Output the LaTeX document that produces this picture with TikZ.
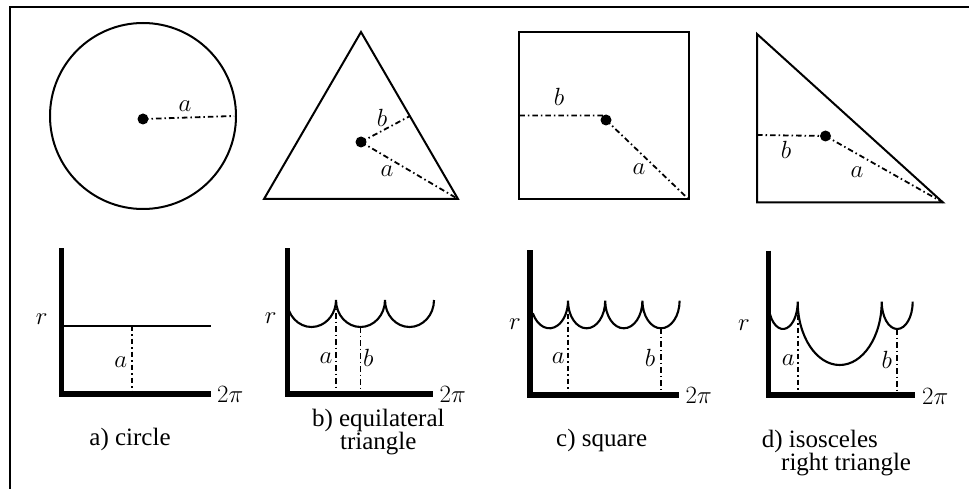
\documentclass[tikz,border=0pt]{standalone}
\usepackage{fontspec}
\setmainfont{Liberation Serif}
\begin{document}
\begin{tikzpicture}[x=1pt,y=1pt,
  outline/.style={line width=2.0pt, line join=miter},
  dd/.style={line width=1.8pt, dash pattern=on 5.5pt off 3pt on 1.5pt off 3pt},
  axisline/.style={line width=5.5pt},
  curve/.style={line width=2.1pt},
  lab/.style={font=\fontsize{24}{24}\selectfont, inner sep=0pt},
  tpi/.style={lab, anchor=west},
  capt/.style={font=\fontsize{25}{25}\selectfont, inner sep=0pt},
  dot/.style={circle, fill=black, inner sep=0pt, minimum size=11pt}
]
\useasboundingbox (0,0) rectangle (969,-489);
% frame
\draw[line width=2.5pt] (10,-489) -- (10,-7) -- (969,-7);

% ---------- a) circle ----------
\draw[outline] (143,-116) circle (93);
\node[dot] (d1) at (143,-119) {};
\coordinate (e1) at (234,-116);
\draw[dd] (d1.center) -- (e1);
\node[lab] (la1) at (185,-106) {$a$};

% ---------- b) equilateral triangle ----------
\coordinate (t1) at (361,-32);
\coordinate (t2) at (264,-199);
\coordinate (t3) at (458,-199);
\draw[outline] (t1) -- (t2) -- (t3) -- cycle;
\node[dot] (d2) at (361,-142) {};
\coordinate (eb2) at (410,-116);
\draw[dd] (d2.center) -- (eb2);
\draw[dd] (d2.center) -- (t3);
\node[lab] (lb2) at (382,-118) {$b$};
\node[lab] (la2) at (387,-171) {$a$};

% ---------- c) square ----------
\draw[outline] (519.3,-31.7) rectangle (688.7,-199.3);
\node[dot] (d3) at (606,-120) {};
\coordinate (eb3) at (519.3,-115.5);
\coordinate (ea3) at (688.7,-199.3);
\draw[dd] (eb3) -- (603,-115.5) -- (d3.center);
\draw[dd] (d3.center) -- (ea3);
\node[lab] (lb3) at (559,-97) {$b$};
\node[lab] (la3) at (639,-169) {$a$};

% ---------- d) isosceles right triangle ----------
\coordinate (r1) at (757,-34);
\coordinate (r2) at (757,-202.5);
\coordinate (r3) at (943,-202.5);
\draw[outline] (r1) -- (r2) -- (r3) -- cycle;
\node[dot] (d4) at (825.5,-136) {};
\coordinate (eb4) at (757,-135);
\draw[dd] (eb4) -- (d4.center);
\draw[dd] (d4.center) -- (r3);
\node[lab] (lb4) at (786,-150) {$b$};
\node[lab] (la4) at (857,-172) {$a$};

% ---------- graph a ----------
\draw[axisline] (61.7,-248) -- (61.7,-394) -- (211,-394);
\coordinate (ga0) at (62,-325.7);
\coordinate (ga1) at (211,-325.7);
\draw[curve] (ga0) -- (ga1);
\coordinate (gav1) at (132.3,-325.7);
\coordinate (gav2) at (132.3,-394);
\draw[dd] (gav1) -- (gav2);
\node[lab] (gar) at (41.7,-319.3) {$r$};
\node[lab] (gaa) at (120.7,-361.7) {$a$};
\node[tpi] (gap) at (217,-394) {$2\pi$};
\node[capt] (capa) at (130,-439.5) {a) circle};

% ---------- graph b ----------
\draw[axisline] (287.7,-248) -- (287.7,-394) -- (433,-394);
\draw[curve] (311.5,-300) ++(192:24.5 and 27) arc[start angle=192, end angle=360, x radius=24.5, y radius=27]
  arc[start angle=180, end angle=360, x radius=24.5, y radius=27]
  arc[start angle=180, end angle=360, x radius=24.5, y radius=27];
\draw[dd] (336,-300) -- (336,-394);
\draw[dd] (360.5,-327) -- (360.5,-394);
\node[lab] (gbr) at (270.7,-318.3) {$r$};
\node[lab] (gba) at (326,-357.7) {$a$};
\node[lab] (gbb) at (368.3,-357.7) {$b$};
\node[tpi] (gbp) at (439.5,-394) {$2\pi$};
\node[capt] (capb1) at (378.3,-420.7) {b) equilateral};
\node[capt] (capb2) at (378.3,-443.3) {triangle};

% ---------- graph c ----------
\draw[axisline] (530,-250) -- (530,-395) -- (678.5,-395);
\draw[curve] (549.4,-300.7) ++(207:18.6 and 27.6) arc[start angle=207, end angle=360, x radius=18.6, y radius=27.6]
  arc[start angle=180, end angle=360, x radius=18.6, y radius=27.6]
  arc[start angle=180, end angle=360, x radius=18.6, y radius=27.6]
  arc[start angle=180, end angle=360, x radius=18.6, y radius=27.6];
\draw[dd] (568,-300.7) -- (568,-395);
\draw[dd] (660.8,-328.3) -- (660.8,-395);
\node[lab] (gcr) at (515,-324) {$r$};
\node[lab] (gca) at (558.3,-358.3) {$a$};
\node[lab] (gcb) at (650,-358.3) {$b$};
\node[tpi] (gcp) at (685.5,-395) {$2\pi$};
\node[capt] (capc) at (601.7,-440.7) {c) square};

% ---------- graph d ----------
\draw[axisline] (768.3,-250.7) -- (768.3,-395) -- (915,-395);
\draw[curve] (783,-301.7) ++(207:14.7 and 27.3) arc[start angle=207, end angle=360, x radius=14.7, y radius=27.3]
  arc[start angle=180, end angle=360, x radius=42, y radius=63.3]
  arc[start angle=180, end angle=360, x radius=15.5, y radius=27.3];
\draw[dd] (797.7,-301.7) -- (797.7,-395);
\draw[dd] (897.2,-329) -- (897.2,-395);
\node[lab] (gdr) at (744,-325) {$r$};
\node[lab] (gda) at (788.3,-360) {$a$};
\node[lab] (gdb) at (886.7,-360) {$b$};
\node[tpi] (gdp) at (922,-396) {$2\pi$};
\node[capt, anchor=west] (capd1) at (761.7,-441.7) {d) isosceles};
\node[capt, anchor=west] (capd2) at (781,-465) {right triangle};
\end{tikzpicture}
\end{document}
